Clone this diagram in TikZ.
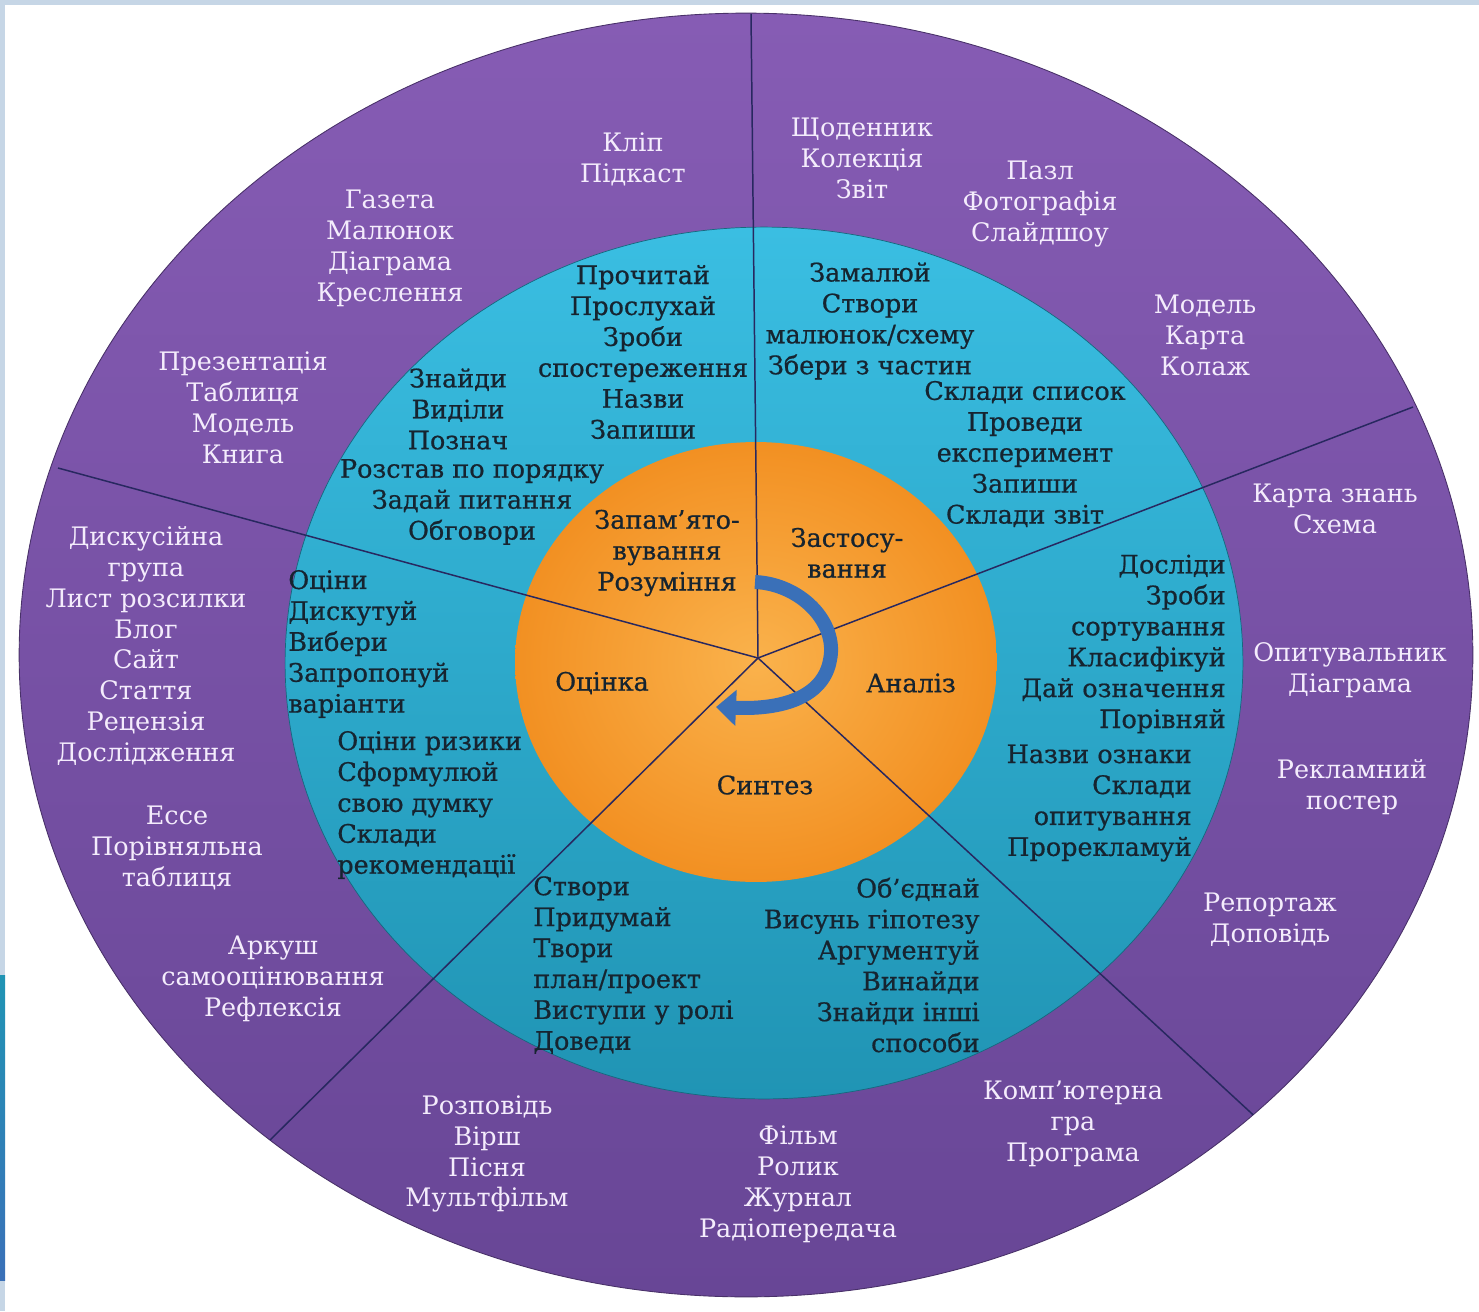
\documentclass[tikz,border=0pt]{standalone}
\usepackage{fontspec}
\setmainfont{DejaVu Serif}
\newfontfamily\inkfont[FakeBold=0.7]{DejaVu Serif}
\usetikzlibrary{arrows.meta}

\definecolor{ringpurple}{RGB}{134,92,180}
\definecolor{ringpurpledark}{RGB}{104,70,150}
\definecolor{ringcyan}{RGB}{58,190,226}
\definecolor{ringcyandark}{RGB}{32,148,180}
\definecolor{coreorange}{RGB}{242,144,34}
\definecolor{coreorangelight}{RGB}{250,178,76}
\definecolor{spokeblue}{RGB}{40,40,96}
\definecolor{lavwhite}{RGB}{244,236,252}
\definecolor{inkdark}{RGB}{22,36,48}
\definecolor{arrowblue}{RGB}{58,112,184}
\definecolor{framegray}{RGB}{198,214,230}

\tikzset{
  outlabel/.style={text=lavwhite, align=center, inner sep=0pt},
  inlabel/.style={text=inkdark, align=center, inner sep=0pt,
    font=\inkfont\fontsize{14.5}{17.6}\selectfont},
  spoke/.style={draw=spokeblue, line width=0.85pt},
}

\begin{document}
\begin{tikzpicture}[x=0.02cm, y=-0.02cm,
    every node/.style={font=\fontsize{14.5}{17.6}\selectfont}]
  \useasboundingbox (0,0) rectangle (1479,1311);
  \fill[white] (0,0) rectangle (1479,1311);
  % frame of the slide
  \fill[framegray] (0,0) rectangle (1479,5);
  \fill[framegray] (0,0) rectangle (5,1311);
  \shade[top color=ringcyandark, bottom color=arrowblue] (0,975) rectangle (5,1280);

  % rings
  \shade[top color=ringpurple, bottom color=ringpurpledark, draw=ringpurpledark!70!black, line width=0.5pt]
    (746,655) ellipse [x radius=14.54cm, y radius=12.84cm];
  \shade[top color=ringcyan, bottom color=ringcyandark, draw=ringcyandark!70!black, line width=0.4pt]
    (764,663) ellipse [x radius=9.58cm, y radius=8.72cm];
  \shade[inner color=coreorangelight, outer color=coreorange]
    (756,662) ellipse [x radius=4.82cm, y radius=4.40cm];

  % spokes, cut at the outer ring
  \coordinate (c) at (758,658);
  \coordinate (ptop) at (751,14);
  \coordinate (pur) at (1413,407);
  \coordinate (plr) at (1262,1123);
  \coordinate (pll) at (267,1143);
  \coordinate (pul) at (58,468);
  \begin{scope}
    \clip (746,655) ellipse [x radius=14.54cm, y radius=12.84cm];
    \foreach \p in {ptop,pur,plr,pll,pul}
      \draw[spoke] (c) -- (\p);
  \end{scope}

  % curved arrow
  \draw[arrowblue, line width=0.28cm, -{Triangle[length=0.4cm, width=0.7cm]}]
    (755,582) .. controls (800,584) and (838,622) .. (830,660)
    .. controls (824,694) and (788,710) .. (716,707);

  % outer ring
  \node[outlabel] (klip) at (633,159) {Кліп\\Підкаст};
  \node[outlabel] (shchod) at (862,158) {Щоденник\\Колекція\\Звіт};
  \node[outlabel] (pazl) at (1040,204) {Пазл\\Фотографія\\Слайдшоу};
  \node[outlabel] (model) at (1205,335) {Модель\\Карта\\Колаж};
  \node[outlabel] (kznan) at (1335,509) {Карта знань\\Схема};
  \node[outlabel] (opyt) at (1350,670) {Опитувальник\\Діаграма};
  \node[outlabel] (rekl) at (1352,787) {Рекламний\\постер};
  \node[outlabel] (repo) at (1270,920) {Репортаж\\Доповідь};
  \node[outlabel] (komp) at (1073,1124) {Комп’ютерна\\гра\\Програма};
  \node[outlabel] (film) at (798,1184) {Фільм\\Ролик\\Журнал\\Радіопередача};
  \node[outlabel] (rozp) at (487,1154) {Розповідь\\Вірш\\Пісня\\Мультфільм};
  \node[outlabel] (arkush) at (273,979) {Аркуш\\самооцінювання\\Рефлексія};
  \node[outlabel] (esse) at (177,848) {Ессе\\Порівняльна\\таблиця};
  \node[outlabel] (dysk) at (146,646) {Дискусійна\\група\\Лист розсилки\\Блог\\Сайт\\Стаття\\Рецензія\\Дослідження};
  \node[outlabel] (prez) at (243,408) {Презентація\\Таблиця\\Модель\\Книга};
  \node[outlabel] (gazeta) at (390,248) {Газета\\Малюнок\\Діаграма\\Креслення};

  % middle ring
  \node[inlabel] (proch) at (643,352) {Прочитай\\Прослухай\\Зроби\\спостереження\\Назви\\Запиши};
  \node[inlabel] (znaidy) at (458,409) {Знайди\\Виділи\\Познач};
  \node[inlabel] (rozstav) at (472,502) {Розстав по порядку\\Задай питання\\Обговори};
  \node[inlabel] (zamal) at (870,321) {Замалюй\\Створи\\малюнок/схему\\Збери з частин};
  \node[inlabel] (spysok) at (1025,454) {Склади список\\Проведи\\експеримент\\Запиши\\Склади звіт};
  \node[inlabel, align=right, anchor=east] (doslid) at (1226,644) {Досліди\\Зроби\\сортування\\Класифікуй\\Дай означення\\Порівняй};
  \node[inlabel, align=right, anchor=east] (oznaky) at (1192,803) {Назви ознаки\\Склади\\опитування\\Прорекламуй};
  \node[inlabel, align=right, anchor=east] (obied) at (980,965) {Об’єднай\\Висунь гіпотезу\\Аргументуй\\Винайди\\Знайди інші\\способи};
  \node[inlabel, align=left, anchor=west] (stvory) at (533,965) {Створи\\Придумай\\Твори\\план/проект\\Виступи у ролі\\Доведи};
  \node[inlabel, align=left, anchor=west] (ryzyky) at (337,805) {Оціни ризики\\Сформулюй\\свою думку\\Склади\\рекомендації};
  \node[inlabel, align=left, anchor=west] (otsiny) at (288,644) {Оціни\\Дискутуй\\Вибери\\Запропонуй\\варіанти};

  % core
  \node[inlabel] (zapam) at (667,553) {Запам’ято-\\вування\\Розуміння};
  \node[inlabel] (zastos) at (847,553) {Застосу-\\вання};
  \node[inlabel] (otsinka) at (602,683) {Оцінка};
  \node[inlabel] (analiz) at (911,683) {Аналіз};
  \node[inlabel] (syntez) at (765,785) {Синтез};
\end{tikzpicture}
\end{document}
